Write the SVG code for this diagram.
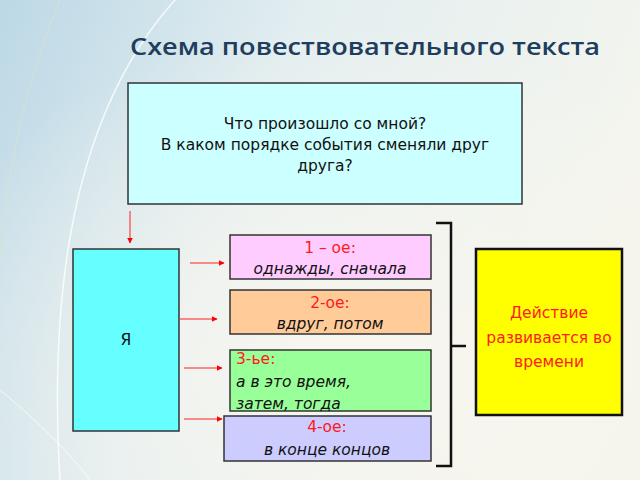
<svg xmlns="http://www.w3.org/2000/svg" width="640" height="480" viewBox="0 0 640 480">
<defs>
<linearGradient id="bg" x1="0" y1="0" x2="1" y2="0.3">
<stop offset="0" stop-color="#bcd8e6"/>
<stop offset="0.45" stop-color="#e3eef0"/>
<stop offset="1" stop-color="#f4f5ee"/>
</linearGradient>
<radialGradient id="glow" cx="0.55" cy="0.75" r="0.7">
<stop offset="0" stop-color="#f8f6ef" stop-opacity="1"/>
<stop offset="1" stop-color="#f8f6ef" stop-opacity="0"/>
</radialGradient>
<marker id="ah" viewBox="0 0 10 10" refX="9" refY="5" markerWidth="6" markerHeight="6" orient="auto" markerUnits="userSpaceOnUse">
<path d="M0,0 L10,5 L0,10 z" fill="#ff0000"/>
</marker>
<style>
.box{stroke:#333;stroke-width:1.5}
.t{font-family:"DejaVu Sans","Noto Sans",sans-serif;font-size:15.5px;fill:#111;text-anchor:middle}
.r{fill:#ff1a1a}
.i{font-style:italic}
.arr{stroke:#ff2020;stroke-width:1;fill:none;marker-end:url(#ah)}
.br{stroke:#111;stroke-width:2.5;fill:none}
</style>
</defs>
<rect width="640" height="480" fill="url(#bg)"/>
<rect width="640" height="480" fill="url(#glow)"/>
<path d="M175,0 Q40,150 60,480" stroke="#ffffff" stroke-width="1.5" fill="none" opacity="0.8"/>
<path d="M60,0 Q10,120 0,260" stroke="#d8e4d0" stroke-width="1" fill="none" opacity="0.8"/>
<path d="M0,390 Q60,440 90,480" stroke="#ffffff" stroke-width="1" fill="none" opacity="0.7"/>

<text x="365" y="55" style="font-family:'Open Sans','DejaVu Sans',sans-serif;font-size:24px;font-weight:600;fill:#1f3d5c;text-anchor:middle" textLength="470" lengthAdjust="spacingAndGlyphs">Схема повествовательного текста</text>

<g id="top">
<rect class="box" x="128" y="83" width="394" height="121" fill="#ccffff"/>
<text class="t" x="325" y="129">Что произошло со мной?</text>
<text class="t" x="325" y="150">В каком порядке события сменяли друг</text>
<text class="t" x="325" y="171">друга?</text>
</g>

<g id="ya">
<rect class="box" x="73" y="249" width="106" height="182" fill="#66ffff"/>
<text class="t" x="126" y="345">Я</text>
</g>

<g id="n1">
<rect class="box" x="230" y="235" width="201" height="44" fill="#ffccff"/>
<text class="t r" x="330" y="253">1 – ое:</text>
<text class="t i" x="330" y="274">однажды, сначала</text>
</g>

<g id="n2">
<rect class="box" x="230" y="290" width="201" height="44" fill="#ffcc99"/>
<text class="t r" x="330" y="308">2-ое:</text>
<text class="t i" x="330" y="329">вдруг, потом</text>
</g>

<g id="n3">
<rect class="box" x="230" y="350" width="201" height="61" fill="#99ff99"/>
<text class="t r" x="236" y="364" style="text-anchor:start">3-ье:</text>
<text class="t i" x="236" y="387" style="text-anchor:start">а в это время,</text>
<text class="t i" x="236" y="409" style="text-anchor:start">затем, тогда</text>
</g>

<g id="n4">
<rect class="box" x="224" y="416" width="207" height="45" fill="#ccccff"/>
<text class="t r" x="327" y="432">4-ое:</text>
<text class="t i" x="327" y="455">в конце концов</text>
</g>

<g id="action">
<rect x="476" y="249" width="146" height="166" fill="#ffff00" stroke="#111" stroke-width="2.5"/>
<text class="t r" x="549" y="318">Действие</text>
<text class="t r" x="549" y="343">развивается во</text>
<text class="t r" x="549" y="367">времени</text>
</g>

<g id="connectors">
<line class="arr" x1="130" y1="211" x2="130" y2="243"/>
<line class="arr" x1="190" y1="263" x2="224" y2="263"/>
<line class="arr" x1="179" y1="319" x2="217" y2="319"/>
<line class="arr" x1="184" y1="368" x2="222" y2="368"/>
<line class="arr" x1="184" y1="419" x2="222" y2="419"/>
<path class="br" d="M436,223 H451 V466 H436"/>
<line class="br" x1="451" y1="346" x2="466" y2="346"/>
</g>
</svg>
